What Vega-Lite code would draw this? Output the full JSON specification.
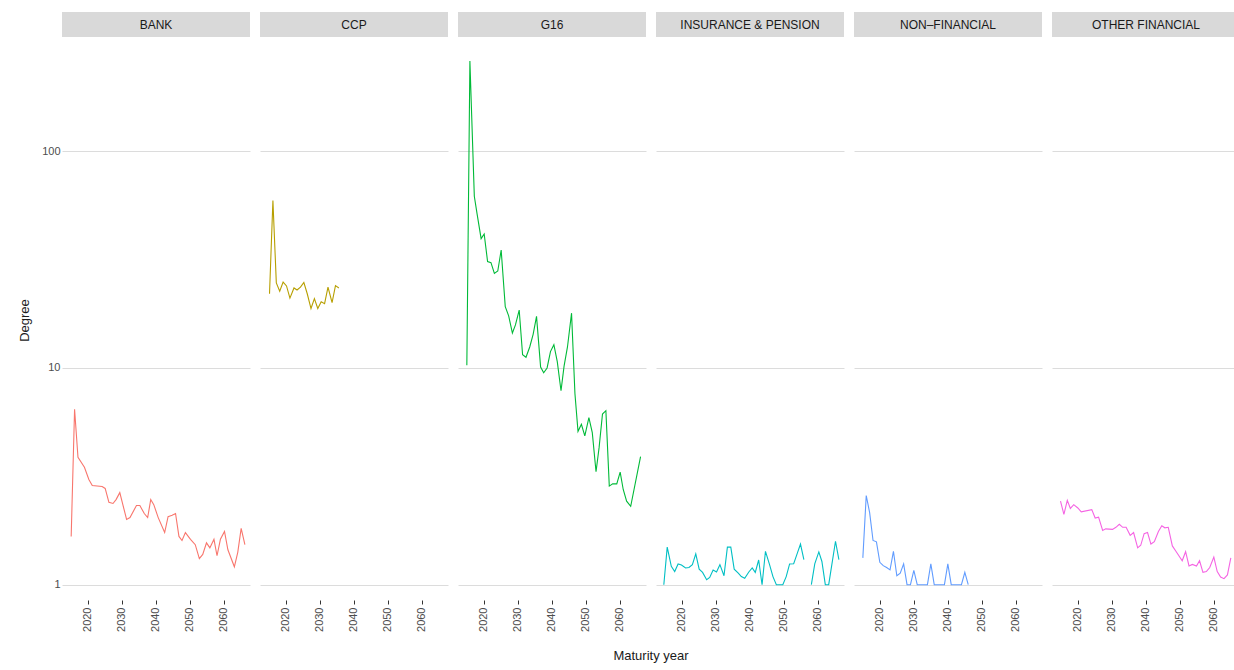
{
"$schema":"https://vega.github.io/schema/vega-lite/v6.json",
"background":"white",
"padding":{"left":18,"top":12,"right":2,"bottom":4},
"config":{"font":"Liberation Sans","view":{"stroke":null},"concat":{"spacing":3},"facet":{"spacing":10},
"axis":{"labelColor":"#4D4D4D","labelFontSize":11,"titleColor":"#1A1A1A","titleFontSize":13,"titleFontWeight":"normal","gridColor":"#DCDCDC","domain":false,"tickColor":"#DCDCDC"}},
"datasets":{
"strips":[{"s":"BANK"},{"s":"CCP"},{"s":"G16"},{"s":"INSURANCE & PENSION"},{"s":"NON–FINANCIAL"},{"s":"OTHER FINANCIAL"}],
"d":[
{"s":"BANK","year":2015.1,"v":1.67},{"s":"BANK","year":2016.1,"v":6.45},{"s":"BANK","year":2017.1,"v":3.87},{"s":"BANK","year":2019.0,"v":3.48},{"s":"BANK","year":2020.3,"v":3.06},{"s":"BANK","year":2021.3,"v":2.87},{"s":"BANK","year":2024.2,"v":2.84},{"s":"BANK","year":2025.1,"v":2.78},{"s":"BANK","year":2026.2,"v":2.40},{"s":"BANK","year":2027.4,"v":2.37},{"s":"BANK","year":2028.3,"v":2.47},{"s":"BANK","year":2029.4,"v":2.66},{"s":"BANK","year":2031.4,"v":2.0},{"s":"BANK","year":2032.4,"v":2.04},{"s":"BANK","year":2034.3,"v":2.32},{"s":"BANK","year":2035.3,"v":2.32},{"s":"BANK","year":2036.6,"v":2.13},{"s":"BANK","year":2037.6,"v":2.04},{"s":"BANK","year":2038.5,"v":2.47},{"s":"BANK","year":2039.4,"v":2.34},{"s":"BANK","year":2040.7,"v":2.04},{"s":"BANK","year":2042.6,"v":1.74},{"s":"BANK","year":2043.6,"v":2.06},{"s":"BANK","year":2044.8,"v":2.09},{"s":"BANK","year":2045.8,"v":2.13},{"s":"BANK","year":2046.8,"v":1.67},{"s":"BANK","year":2047.7,"v":1.6},{"s":"BANK","year":2048.7,"v":1.74},{"s":"BANK","year":2050.2,"v":1.62},{"s":"BANK","year":2051.6,"v":1.53},{"s":"BANK","year":2052.8,"v":1.32},{"s":"BANK","year":2053.8,"v":1.38},{"s":"BANK","year":2054.9,"v":1.56},{"s":"BANK","year":2055.9,"v":1.48},{"s":"BANK","year":2057.1,"v":1.62},{"s":"BANK","year":2058.0,"v":1.36},{"s":"BANK","year":2059.0,"v":1.62},{"s":"BANK","year":2060.2,"v":1.76},{"s":"BANK","year":2061.2,"v":1.45},{"s":"BANK","year":2063.1,"v":1.21},{"s":"BANK","year":2064.1,"v":1.41},{"s":"BANK","year":2065.1,"v":1.82},{"s":"BANK","year":2066.2,"v":1.53},
{"s":"CCP","year":2015.2,"v":22.0},{"s":"CCP","year":2016.2,"v":59.3},{"s":"CCP","year":2017.2,"v":24.7},{"s":"CCP","year":2018.2,"v":22.6},{"s":"CCP","year":2019.2,"v":24.9},{"s":"CCP","year":2020.2,"v":23.9},{"s":"CCP","year":2021.2,"v":21.0},{"s":"CCP","year":2022.4,"v":23.4},{"s":"CCP","year":2023.3,"v":22.9},{"s":"CCP","year":2024.3,"v":23.6},{"s":"CCP","year":2025.3,"v":24.8},{"s":"CCP","year":2026.3,"v":22.0},{"s":"CCP","year":2027.4,"v":18.8},{"s":"CCP","year":2028.4,"v":20.9},{"s":"CCP","year":2029.4,"v":18.8},{"s":"CCP","year":2030.4,"v":20.2},{"s":"CCP","year":2031.4,"v":19.8},{"s":"CCP","year":2032.4,"v":23.6},{"s":"CCP","year":2033.6,"v":20.0},{"s":"CCP","year":2034.6,"v":24.0},{"s":"CCP","year":2035.6,"v":23.4},
{"s":"G16","year":2015.0,"v":10.3},{"s":"G16","year":2015.9,"v":261},{"s":"G16","year":2017.2,"v":62},{"s":"G16","year":2018.0,"v":51.5},{"s":"G16","year":2019.2,"v":39.5},{"s":"G16","year":2020.1,"v":41.5},{"s":"G16","year":2021.1,"v":31},{"s":"G16","year":2022.1,"v":30.6},{"s":"G16","year":2023.1,"v":27.3},{"s":"G16","year":2024.1,"v":28},{"s":"G16","year":2025.1,"v":35},{"s":"G16","year":2026.3,"v":19.2},{"s":"G16","year":2027.3,"v":17.4},{"s":"G16","year":2028.4,"v":14.5},{"s":"G16","year":2029.3,"v":15.8},{"s":"G16","year":2030.4,"v":18.5},{"s":"G16","year":2031.4,"v":11.5},{"s":"G16","year":2032.4,"v":11.2},{"s":"G16","year":2033.5,"v":12.5},{"s":"G16","year":2034.5,"v":14.3},{"s":"G16","year":2035.5,"v":17.3},{"s":"G16","year":2036.7,"v":10.1},{"s":"G16","year":2037.6,"v":9.5},{"s":"G16","year":2038.6,"v":10},{"s":"G16","year":2039.6,"v":11.9},{"s":"G16","year":2040.6,"v":12.8},{"s":"G16","year":2041.6,"v":10.7},{"s":"G16","year":2042.7,"v":7.85},{"s":"G16","year":2043.6,"v":10.2},{"s":"G16","year":2044.6,"v":12.5},{"s":"G16","year":2045.8,"v":17.9},{"s":"G16","year":2046.8,"v":7.6},{"s":"G16","year":2047.7,"v":5.1},{"s":"G16","year":2048.7,"v":5.5},{"s":"G16","year":2049.7,"v":4.86},{"s":"G16","year":2050.9,"v":5.9},{"s":"G16","year":2051.9,"v":5.03},{"s":"G16","year":2053.0,"v":3.32},{"s":"G16","year":2053.9,"v":4.29},{"s":"G16","year":2054.9,"v":6.13},{"s":"G16","year":2055.9,"v":6.35},{"s":"G16","year":2056.9,"v":2.85},{"s":"G16","year":2057.9,"v":2.92},{"s":"G16","year":2059.1,"v":2.92},{"s":"G16","year":2060.1,"v":3.31},{"s":"G16","year":2061.0,"v":2.75},{"s":"G16","year":2062.0,"v":2.43},{"s":"G16","year":2063.2,"v":2.3},{"s":"G16","year":2066.1,"v":3.9},
{"s":"INSURANCE & PENSION","year":2014.7,"v":1},{"s":"INSURANCE & PENSION","year":2015.7,"v":1.49},{"s":"INSURANCE & PENSION","year":2016.9,"v":1.215},{"s":"INSURANCE & PENSION","year":2017.9,"v":1.15},{"s":"INSURANCE & PENSION","year":2018.9,"v":1.247},{"s":"INSURANCE & PENSION","year":2019.9,"v":1.233},{"s":"INSURANCE & PENSION","year":2021.1,"v":1.195},{"s":"INSURANCE & PENSION","year":2022.1,"v":1.2},{"s":"INSURANCE & PENSION","year":2023.1,"v":1.237},{"s":"INSURANCE & PENSION","year":2024.1,"v":1.387},{"s":"INSURANCE & PENSION","year":2025.1,"v":1.18},{"s":"INSURANCE & PENSION","year":2026.1,"v":1.14},{"s":"INSURANCE & PENSION","year":2027.3,"v":1.055},{"s":"INSURANCE & PENSION","year":2028.2,"v":1.08},{"s":"INSURANCE & PENSION","year":2029.2,"v":1.17},{"s":"INSURANCE & PENSION","year":2030.2,"v":1.145},{"s":"INSURANCE & PENSION","year":2031.2,"v":1.237},{"s":"INSURANCE & PENSION","year":2032.4,"v":1.10},{"s":"INSURANCE & PENSION","year":2033.4,"v":1.49},{"s":"INSURANCE & PENSION","year":2034.4,"v":1.49},{"s":"INSURANCE & PENSION","year":2035.4,"v":1.18},{"s":"INSURANCE & PENSION","year":2036.6,"v":1.13},{"s":"INSURANCE & PENSION","year":2037.5,"v":1.09},{"s":"INSURANCE & PENSION","year":2038.5,"v":1.07},{"s":"INSURANCE & PENSION","year":2039.7,"v":1.145},{"s":"INSURANCE & PENSION","year":2040.7,"v":1.195},{"s":"INSURANCE & PENSION","year":2041.6,"v":1.14},{"s":"INSURANCE & PENSION","year":2042.6,"v":1.30},{"s":"INSURANCE & PENSION","year":2043.6,"v":1},{"s":"INSURANCE & PENSION","year":2044.6,"v":1.426},{"s":"INSURANCE & PENSION","year":2045.8,"v":1.237},{"s":"INSURANCE & PENSION","year":2046.8,"v":1.09},{"s":"INSURANCE & PENSION","year":2047.8,"v":1},{"s":"INSURANCE & PENSION","year":2049.7,"v":1},{"s":"INSURANCE & PENSION","year":2050.7,"v":1.09},{"s":"INSURANCE & PENSION","year":2051.7,"v":1.247},{"s":"INSURANCE & PENSION","year":2052.9,"v":1.25},{"s":"INSURANCE & PENSION","year":2053.9,"v":1.387},{"s":"INSURANCE & PENSION","year":2054.9,"v":1.54},{"s":"INSURANCE & PENSION","year":2055.9,"v":1.305},{"s":"INSURANCE & PENSION","year":2057.0,"v":null},{"s":"INSURANCE & PENSION","year":2058.1,"v":1},{"s":"INSURANCE & PENSION","year":2059.1,"v":1.247},{"s":"INSURANCE & PENSION","year":2060.3,"v":1.417},{"s":"INSURANCE & PENSION","year":2061.2,"v":1.28},{"s":"INSURANCE & PENSION","year":2062.2,"v":1},{"s":"INSURANCE & PENSION","year":2063.2,"v":1},{"s":"INSURANCE & PENSION","year":2065.2,"v":1.587},{"s":"INSURANCE & PENSION","year":2066.2,"v":1.305},
{"s":"NON–FINANCIAL","year":2015,"v":1.33},{"s":"NON–FINANCIAL","year":2016,"v":2.58},{"s":"NON–FINANCIAL","year":2017,"v":2.15},{"s":"NON–FINANCIAL","year":2018,"v":1.6},{"s":"NON–FINANCIAL","year":2019,"v":1.577},{"s":"NON–FINANCIAL","year":2020,"v":1.268},{"s":"NON–FINANCIAL","year":2021,"v":1.224},{"s":"NON–FINANCIAL","year":2022,"v":1.2},{"s":"NON–FINANCIAL","year":2023,"v":1.17},{"s":"NON–FINANCIAL","year":2024,"v":1.426},{"s":"NON–FINANCIAL","year":2025,"v":1.1},{"s":"NON–FINANCIAL","year":2026,"v":1.13},{"s":"NON–FINANCIAL","year":2027,"v":1.247},{"s":"NON–FINANCIAL","year":2028,"v":1},{"s":"NON–FINANCIAL","year":2029,"v":1},{"s":"NON–FINANCIAL","year":2030,"v":1.165},{"s":"NON–FINANCIAL","year":2031,"v":1},{"s":"NON–FINANCIAL","year":2032,"v":1},{"s":"NON–FINANCIAL","year":2033,"v":1},{"s":"NON–FINANCIAL","year":2034,"v":1},{"s":"NON–FINANCIAL","year":2035,"v":1.247},{"s":"NON–FINANCIAL","year":2036,"v":1},{"s":"NON–FINANCIAL","year":2037,"v":1},{"s":"NON–FINANCIAL","year":2038,"v":1},{"s":"NON–FINANCIAL","year":2039,"v":1},{"s":"NON–FINANCIAL","year":2040,"v":1.247},{"s":"NON–FINANCIAL","year":2041,"v":1},{"s":"NON–FINANCIAL","year":2042,"v":1},{"s":"NON–FINANCIAL","year":2043,"v":1},{"s":"NON–FINANCIAL","year":2044,"v":1},{"s":"NON–FINANCIAL","year":2045,"v":1.14},{"s":"NON–FINANCIAL","year":2046,"v":1},
{"s":"OTHER FINANCIAL","year":2014.9,"v":2.43},{"s":"OTHER FINANCIAL","year":2015.9,"v":2.11},{"s":"OTHER FINANCIAL","year":2016.9,"v":2.45},{"s":"OTHER FINANCIAL","year":2017.8,"v":2.25},{"s":"OTHER FINANCIAL","year":2018.8,"v":2.34},{"s":"OTHER FINANCIAL","year":2020.0,"v":2.26},{"s":"OTHER FINANCIAL","year":2021.0,"v":2.17},{"s":"OTHER FINANCIAL","year":2024.1,"v":2.22},{"s":"OTHER FINANCIAL","year":2025.1,"v":2.03},{"s":"OTHER FINANCIAL","year":2026.1,"v":2.05},{"s":"OTHER FINANCIAL","year":2027.3,"v":1.78},{"s":"OTHER FINANCIAL","year":2028.2,"v":1.81},{"s":"OTHER FINANCIAL","year":2030.2,"v":1.80},{"s":"OTHER FINANCIAL","year":2031.2,"v":1.84},{"s":"OTHER FINANCIAL","year":2032.2,"v":1.90},{"s":"OTHER FINANCIAL","year":2033.2,"v":1.84},{"s":"OTHER FINANCIAL","year":2034.2,"v":1.84},{"s":"OTHER FINANCIAL","year":2035.4,"v":1.69},{"s":"OTHER FINANCIAL","year":2036.4,"v":1.74},{"s":"OTHER FINANCIAL","year":2037.6,"v":1.48},{"s":"OTHER FINANCIAL","year":2038.5,"v":1.52},{"s":"OTHER FINANCIAL","year":2039.5,"v":1.72},{"s":"OTHER FINANCIAL","year":2040.5,"v":1.74},{"s":"OTHER FINANCIAL","year":2041.5,"v":1.54},{"s":"OTHER FINANCIAL","year":2042.5,"v":1.58},{"s":"OTHER FINANCIAL","year":2043.7,"v":1.76},{"s":"OTHER FINANCIAL","year":2044.7,"v":1.87},{"s":"OTHER FINANCIAL","year":2045.6,"v":1.83},{"s":"OTHER FINANCIAL","year":2046.6,"v":1.84},{"s":"OTHER FINANCIAL","year":2047.8,"v":1.51},{"s":"OTHER FINANCIAL","year":2048.8,"v":1.43},{"s":"OTHER FINANCIAL","year":2050.7,"v":1.29},{"s":"OTHER FINANCIAL","year":2051.7,"v":1.42},{"s":"OTHER FINANCIAL","year":2052.7,"v":1.22},{"s":"OTHER FINANCIAL","year":2053.7,"v":1.24},{"s":"OTHER FINANCIAL","year":2054.9,"v":1.22},{"s":"OTHER FINANCIAL","year":2055.8,"v":1.29},{"s":"OTHER FINANCIAL","year":2056.8,"v":1.14},{"s":"OTHER FINANCIAL","year":2057.8,"v":1.15},{"s":"OTHER FINANCIAL","year":2058.8,"v":1.20},{"s":"OTHER FINANCIAL","year":2060.0,"v":1.34},{"s":"OTHER FINANCIAL","year":2061.0,"v":1.15},{"s":"OTHER FINANCIAL","year":2062.0,"v":1.085},{"s":"OTHER FINANCIAL","year":2063.0,"v":1.066},{"s":"OTHER FINANCIAL","year":2064.0,"v":1.11},{"s":"OTHER FINANCIAL","year":2065.0,"v":1.33}
]},
"vconcat":[
{"data":{"name":"strips"},
"facet":{"column":{"field":"s","type":"nominal","header":{"title":null,"labels":false}}},
"spec":{"width":188,"height":25,"layer":[
{"mark":{"type":"rect","color":"#D9D9D9"},"encoding":{}},
{"mark":{"type":"text","fontSize":12,"color":"#1A1A1A","baseline":"middle"},"encoding":{"text":{"field":"s"}}}
]}},
{"data":{"name":"d"},
"facet":{"column":{"field":"s","type":"nominal","title":"Maturity year","header":{"labels":false,"titleOrient":"bottom","titleFontSize":13,"titleColor":"#1A1A1A","titleFontWeight":"normal","titlePadding":8}}},
"spec":{"width":188,"height":560,
"mark":{"type":"line","strokeWidth":1.1,"clip":true,"invalid":"break-paths-show-domains"},
"encoding":{
"x":{"field":"year","type":"quantitative","scale":{"domain":[2012.4,2067.7],"nice":false,"zero":false},"axis":{"title":null,"values":[2020,2030,2040,2050,2060],"format":"d","labelAngle":270,"labelAlign":"right","labelBaseline":"middle","grid":false,"ticks":true,"tickSize":4,"tickColor":"#333333","labelPadding":3}},
"y":{"field":"v","type":"quantitative","scale":{"type":"log","domain":[0.85,326],"nice":false},"axis":{"title":"Degree","values":[1,10,100],"grid":true,"ticks":false,"titlePadding":10}},
"color":{"field":"s","type":"nominal","legend":null,"scale":{"domain":["BANK","CCP","G16","INSURANCE & PENSION","NON–FINANCIAL","OTHER FINANCIAL"],"range":["#F8766D","#B79F00","#00BA38","#00BFC4","#619CFF","#F564E3"]}}
}}}
]}
